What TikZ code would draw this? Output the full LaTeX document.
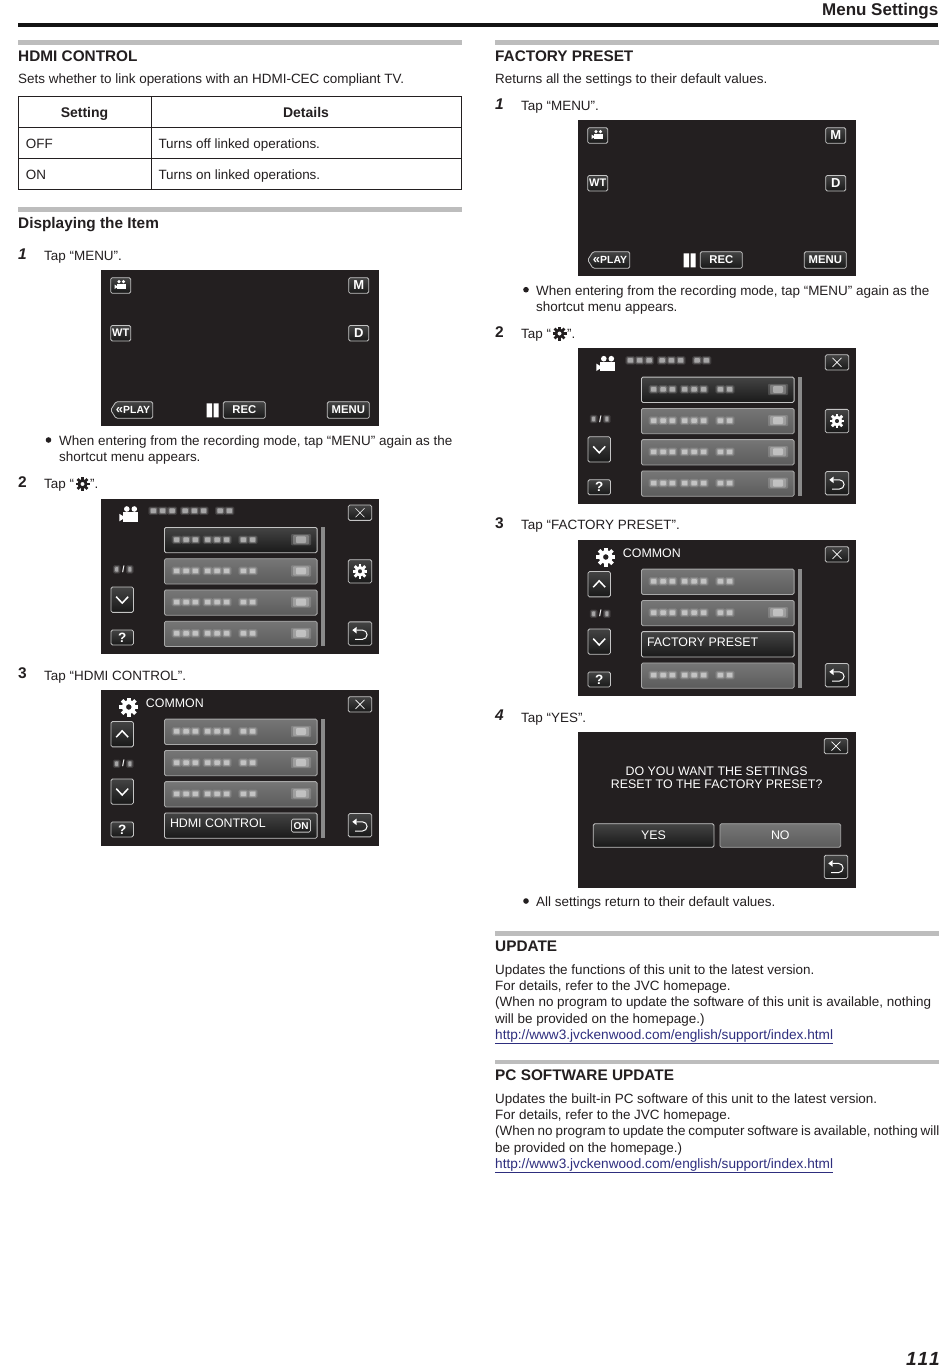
\documentclass[tikz,border=0pt]{standalone}
\usepackage{fontspec}
\setmainfont{Liberation Sans}
\definecolor{scrbg}{HTML}{231F20}
\definecolor{btnedge}{HTML}{C4C4C4}
\definecolor{btntop}{HTML}{444444}
\definecolor{btnbot}{HTML}{181818}
\definecolor{rowtop}{HTML}{767676}
\definecolor{rowbot}{HTML}{5C5C5C}
\definecolor{rowedge}{HTML}{A8A8A8}
\definecolor{scrollgrey}{HTML}{8A8A8A}
\definecolor{rulegrey}{HTML}{BDBDBD}
\definecolor{inktext}{HTML}{231F20}
\definecolor{linkblue}{HTML}{2E2E7E}

\newcommand{\blurbit}[3]{%
  \fill[white,opacity=.12,rounded corners=1.5pt] (#1-1.6,#2-4.2) rectangle (#1+#3+1.6,#2+4.2);
  \fill[white,opacity=.22,rounded corners=1pt] (#1-.3,#2-3.2) rectangle (#1+#3+.3,#2+3.2);
  \fill[white,opacity=.42,rounded corners=.8pt] (#1+.7,#2-2.3) rectangle (#1+#3-.7,#2+2.3);
}
\newcommand{\blurline}[1]{%
  \foreach \bx in {72.3,81.7,91,103.3,112.7,122.3,139,148.3} {\blurbit{\bx}{#1}{6.8}}
}
\newcommand{\blurbox}[1]{%
  \fill[white,opacity=.16,rounded corners=1pt] (190,#1-5.6) rectangle (210,#1+5.6);
  \fill[white,opacity=.24,rounded corners=1pt] (192,#1-4.6) rectangle (208,#1+4.6);
  \fill[white,opacity=.36,rounded corners=1pt] (195,#1-3.4) rectangle (205,#1+3.4);
}
\newcommand{\pagerow}[3]{%
  \node[#3,anchor=north west] (#1) at (63,#2) {};
}
\newcommand{\blurnum}[1]{%
  \blurbit{13.5}{#1}{4.4}
  \node[smalltxt] (-pagenum) at (22.4,#1) {/};
  \blurbit{26.6}{#1}{4.4}
}
\newcommand{\backglyph}[2]{%
  \fill[white] (#1-7.7,#2-3.4) -- (#1-3.3,#2-6.7) -- (#1-3.3,#2) -- cycle;
  \draw[white,line width=1pt] (#1-3.3,#2-3.4) -- (#1+2.5,#2-3.4) arc[start angle=-90,end angle=90,radius=4.6] -- (#1-5,#2+5.8);
}
\newcommand{\chevron}[3]{%
  \draw[white,line width=1.5pt] (#1-6,#2-#3) -- (#1,#2+#3) -- (#1+6,#2-#3);
}
\newcommand{\crossglyph}[2]{%
  \draw[white,line width=.6pt] (#1-4.5,#2-4.5) -- (#1+4.5,#2+4.5) (#1-4.5,#2+4.5) -- (#1+4.5,#2-4.5);
}

\tikzset{
  hdg/.style={anchor=base west,inner sep=0pt,text=inktext,font=\bfseries\fontsize{15.35}{16}\selectfont},
  txt/.style={anchor=base west,inner sep=0pt,text=inktext,font=\fontsize{13.45}{14}\selectfont},
  stepnum/.style={anchor=base west,inner sep=0pt,text=inktext,font=\bfseries\fontsize{15.5}{16}\selectfont},
  stepslant/.style={stepnum,font=\bfseries\itshape\fontsize{15.5}{16}\selectfont},
  thead/.style={anchor=base,inner sep=0pt,text=inktext,font=\bfseries\fontsize{14}{14}\selectfont},
  linktxt/.style={txt,text=linkblue,font=\fontsize{13.63}{14}\selectfont},
  dot/.style={circle,fill=inktext,inner sep=0pt,minimum size=5.6pt},
  scrn/.style={anchor=north west,fill=scrbg,inner sep=0pt,minimum width=277.5pt,minimum height=155.6pt},
  btn/.style={draw=btnedge,line width=.8pt,rounded corners=1.5pt,top color=btntop,bottom color=btnbot,
    text=white,inner sep=0pt,font=\bfseries\fontsize{11.3}{12}\selectfont},
  btnsmall/.style={btn,minimum width=20pt,minimum height=15.6pt,font=\bfseries\fontsize{13}{13}\selectfont},
  btnwide/.style={btn,minimum width=42pt,minimum height=16.6pt},
  btntall/.style={btn,minimum width=22.4pt,minimum height=25.3pt},
  btnsquare/.style={btn,minimum width=23.4pt,minimum height=23.3pt},
  btnflat/.style={btn,minimum width=22.4pt,minimum height=15pt},
  btnclose/.style={btn,minimum width=23.4pt,minimum height=15.3pt},
  rowlight/.style={draw=rowedge,line width=.8pt,rounded corners=1.5pt,top color=rowtop,bottom color=rowbot,
    inner sep=0pt,minimum width=152.7pt,minimum height=25.3pt},
  rowdark/.style={rowlight,draw=btnedge,top color=btntop,bottom color=black!90},
  scrtxt/.style={text=white,inner sep=0pt,font=\fontsize{12.4}{14}\selectfont},
  smalltxt/.style={text=white,inner sep=0pt,font=\bfseries\fontsize{9}{9}\selectfont},
  pics/camglyph/.style={code={
    \fill[white] (-5.5,-1.5) rectangle (9.5,7.8);
    \fill[white] (-2,-4.8) circle (2.8) (5.5,-4.8) circle (2.8);
    \fill[white] (-9.5,0) -- (-5.5,2.5) -- (-5.5,5) -- (-9.5,7.5) -- cycle;
  }},
  pics/gearglyph/.style={code={
    \path[pic actions,even odd rule] (0,0) circle (.72) (0,0) circle (.3);
    \foreach \ga in {0,45,...,315} {\path[pic actions,rotate=\ga] (-.19,-.62) rectangle (.19,-1);}
  }},
  pics/menuscreen/.style={code={
    \node[scrn] (-bg) at (0,0) {};
    \node[btnsmall] (-cam) at (19.7,15.5) {};
    \pic[scale=.6] at (19.2,14.5) {camglyph};
    \node[btnsmall] (-m) at (257.7,15.5) {M};
    \node[btnsmall,font=\bfseries\fontsize{11}{11}\selectfont] (-wt) at (19.7,63.2) {WT};
    \node[btnsmall] (-d) at (257.7,63.2) {D};
    \draw[btnedge,line width=.8pt,rounded corners=1.5pt,top color=btntop,bottom color=btnbot]
      (9.7,140) -- (15,131.7) -- (51.7,131.7) -- (51.7,148.3) -- (15,148.3) -- cycle;
    \node[text=white,inner sep=0pt,font=\bfseries\fontsize{10.4}{11}\selectfont] (-play) at (32,139.6) {{\fontsize{13}{11}\selectfont«}PLAY};
    \fill[white] (105.7,133.3) rectangle (111,147.3) (112.7,133.3) rectangle (117.5,147.3);
    \node[btnwide] (-rec) at (143.3,140) {REC};
    \node[btnwide] (-menu) at (247.3,140) {MENU};
  }},
  pics/listscreen/.style={code={
    \node[scrn] (-bg) at (0,0) {};
    \pic at (27.8,15.5) {camglyph};
    \foreach \bx in {49,58.3,67.7,80.7,90,99.3,115.7,125} {\blurbit{\bx}{12.4}{6.8}}
    \node[btnclose] (-close) at (259,14.4) {};
    \crossglyph{259}{14.4}
    \pagerow{-r1}{28.7}{rowdark}
    \pagerow{-r2}{60}{rowlight}
    \pagerow{-r3}{91.2}{rowlight}
    \pagerow{-r4}{122.5}{rowlight}
    \foreach \ry in {41.4,72.6,103.8,135.1} {\blurline{\ry} \blurbox{\ry}}
    \fill[scrollgrey] (219.7,28.7) rectangle (224,147.8);
    \blurnum{71}
    \node[btntall] (-down) at (21.2,101.4) {};
    \chevron{21.2}{101.6}{3.2}
    \node[btnflat] (-help) at (21.2,139.2) {\fontsize{13.5}{14}\selectfont ?};
    \node[btnsquare] (-gear) at (259,73) {};
    \pic[scale=7.4,fill=white] at (259,73) {gearglyph};
    \node[btnsquare] (-back) at (259,135.2) {};
    \backglyph{259}{135.2}
  }},
  pics/commonframe/.style={code={
    \node[scrn] (-bg) at (0,0) {};
    \pic[scale=9.5,fill=white] at (27.8,17) {gearglyph};
    \node[scrtxt,anchor=base west] (-title) at (44.7,17.5) {COMMON};
    \node[btnclose] (-close) at (259,14.4) {};
    \crossglyph{259}{14.4}
    \fill[scrollgrey] (219.7,28.7) rectangle (224,147.8);
    \node[btntall] (-up) at (21.2,44.2) {};
    \chevron{21.2}{44}{-3.2}
    \blurnum{73.7}
    \node[btntall] (-down) at (21.2,101.6) {};
    \chevron{21.2}{101.8}{3.2}
    \node[btnflat] (-help) at (21.2,139.4) {\fontsize{13.5}{14}\selectfont ?};
    \node[btnsquare] (-back) at (259,135.2) {};
    \backglyph{259}{135.2}
  }},
  pics/hdmiscreen/.style={code={
    \pic (-) at (0,0) {commonframe};
    \pagerow{-r1}{28.7}{rowlight}
    \pagerow{-r2}{60}{rowlight}
    \pagerow{-r3}{91.2}{rowlight}
    \pagerow{-r4}{122.5}{rowdark}
    \foreach \ry in {41.4,72.6,103.8} {\blurline{\ry} \blurbox{\ry}}
    \node[scrtxt,anchor=base west] (-hdmi) at (68.8,137.6) {HDMI CONTROL};
    \node[btn,minimum width=19pt,minimum height=13pt,font=\bfseries\fontsize{10}{10}\selectfont] (-on) at (200,135.6) {ON};
  }},
  pics/presetscreen/.style={code={
    \pic (-) at (0,0) {commonframe};
    \pagerow{-r1}{28.7}{rowlight}
    \pagerow{-r2}{60}{rowlight}
    \pagerow{-r3}{91.2}{rowdark}
    \pagerow{-r4}{122.5}{rowlight}
    \foreach \ry in {41.4,72.6,135.1} {\blurline{\ry}}
    \blurbox{72.6}
    \node[scrtxt,anchor=base west] (-factory) at (68.8,106) {FACTORY PRESET};
  }},
  pics/askscreen/.style={code={
    \node[scrn] (-bg) at (0,0) {};
    \node[btnclose] (-close) at (258,14.4) {};
    \crossglyph{258}{14.4}
    \node[scrtxt,anchor=base] (-ask1) at (138.7,43.8) {DO YOU WANT THE SETTINGS};
    \node[scrtxt,anchor=base] (-ask2) at (138.7,57) {RESET TO THE FACTORY PRESET?};
    \node[btn,minimum width=120.7pt,minimum height=23.6pt,font=\fontsize{12.4}{14}\selectfont] (-yes) at (75.6,103.8) {\raisebox{1pt}{YES}};
    \node[rowlight,minimum width=120.7pt,minimum height=23.6pt,text=white,font=\fontsize{12.4}{14}\selectfont] (-no) at (202.3,103.8) {\raisebox{1pt}{NO}};
    \node[btnsquare] (-back) at (258,135.1) {};
    \backglyph{258}{135.1}
  }},
}

\begin{document}
\begin{tikzpicture}[x=1pt,y=-1pt]
  \useasboundingbox[fill=white] (0,0) rectangle (950,1369);

  % page head
  \fill[black!92] (18,22.7) rectangle (938,27);
  \node[hdg,anchor=base east,font=\bfseries\fontsize{17}{17}\selectfont] (head) at (938.5,15) {Menu Settings};

  % left column
  \fill[rulegrey] (18,40.3) rectangle (461.5,45);
  \node[hdg] (hdmihead) at (18,61.3) {HDMI CONTROL};
  \node[txt] (hdmiintro) at (18,83.6) {Sets whether to link operations with an HDMI-CEC compliant TV.};

  \draw[inktext,line width=.8pt] (18,96.3) rectangle (461.5,189.7)
    (18,127.5) -- (461.5,127.5) (18,158.7) -- (461.5,158.7) (151,96.3) -- (151,189.7);
  \node[thead] (thset) at (84.5,117.3) {Setting};
  \node[thead] (thdet) at (306,117.3) {Details};
  \node[txt] (offkey) at (25.7,148.3) {OFF};
  \node[txt] (offval) at (158.3,148.3) {Turns off linked operations.};
  \node[txt] (onkey) at (25.7,179.5) {ON};
  \node[txt] (onval) at (158.3,179.5) {Turns on linked operations.};

  \fill[rulegrey] (18,207) rectangle (461.5,212);
  \node[hdg] (disphead) at (18,228) {Displaying the Item};

  \node[stepslant] (lnum1) at (18,259) {1};
  \node[txt] (lstep1) at (44,260.3) {Tap “MENU”.};
  \pic (lmenu) at (101,270) {menuscreen};
  \node[dot] (ldot1) at (48.5,440) {};
  \node[txt] (lnote1) at (59,445.3) {When entering from the recording mode, tap “MENU” again as the};
  \node[txt] (lnote2) at (59,461.7) {shortcut menu appears.};
  \node[stepnum] (lnum2) at (18,487.8) {2};
  \node[txt] (lstep2) at (44,488.8) {Tap “\hspace{16pt}”.};
  \pic[scale=7,fill=inktext] at (82.5,484) {gearglyph};
  \pic (llist) at (101,498.3) {listscreen};
  \node[stepnum] (lnum3) at (18,678.5) {3};
  \node[txt] (lstep3) at (44,680) {Tap “HDMI CONTROL”.};
  \pic (lhdmi) at (101,690) {hdmiscreen};

  % right column
  \fill[rulegrey] (495,40.3) rectangle (938.5,45);
  \node[hdg] (preshead) at (495,61.3) {FACTORY PRESET};
  \node[txt] (presintro) at (495,83.8) {Returns all the settings to their default values.};
  \node[stepslant] (rnum1) at (495,109) {1};
  \node[txt] (rstep1) at (521,110.3) {Tap “MENU”.};
  \pic (rmenu) at (578,120) {menuscreen};
  \node[dot] (rdot1) at (526,289.7) {};
  \node[txt] (rnote1) at (536,295) {When entering from the recording mode, tap “MENU” again as the};
  \node[txt] (rnote2) at (536,311.6) {shortcut menu appears.};
  \node[stepnum] (rnum2) at (495,337.3) {2};
  \node[txt] (rstep2) at (521,338.3) {Tap “\hspace{16pt}”.};
  \pic[scale=7,fill=inktext] at (559.5,333.5) {gearglyph};
  \pic (rlist) at (578,348) {listscreen};
  \node[stepnum] (rnum3) at (495,528.5) {3};
  \node[txt] (rstep3) at (521,529.6) {Tap “FACTORY PRESET”.};
  \pic (rpreset) at (578,540) {presetscreen};
  \node[stepslant] (rnum4) at (495,720.5) {4};
  \node[txt] (rstep4) at (521,722) {Tap “YES”.};
  \pic (rask) at (578,731.7) {askscreen};
  \node[dot] (rdot2) at (526,901) {};
  \node[txt] (rnote3) at (536,906.7) {All settings return to their default values.};

  \fill[rulegrey] (495,931) rectangle (938.5,935.6);
  \node[hdg] (updhead) at (495,951.8) {UPDATE};
  \node[txt] (upd1) at (495,974) {Updates the functions of this unit to the latest version.};
  \node[txt] (upd2) at (495,990.3) {For details, refer to the JVC homepage.};
  \node[txt] (upd3) at (495,1006.7) {(When no program to update the software of this unit is available, nothing};
  \node[txt] (upd4) at (495,1023) {will be provided on the homepage.)};
  \node[linktxt] (upd5) at (495,1039.3) {\underline{http://www3.jvckenwood.com/english/support/index.html}};

  \fill[rulegrey] (495,1059.6) rectangle (938.5,1064.2);
  \node[hdg] (pchead) at (495,1080.6) {PC SOFTWARE UPDATE};
  \node[txt] (pc1) at (495,1103) {Updates the built-in PC software of this unit to the latest version.};
  \node[txt] (pc2) at (495,1119.3) {For details, refer to the JVC homepage.};
  \node[txt] (pc3) at (495,1135.7) {\spaceskip=.218em (When no program to update the computer software is available, nothing will};
  \node[txt] (pc4) at (495,1152) {be provided on the homepage.)};
  \node[linktxt] (pc5) at (495,1168.3) {\underline{http://www3.jvckenwood.com/english/support/index.html}};

  % folio
  \node[stepslant,anchor=base east,font=\bfseries\itshape\fontsize{19}{19}\selectfont] (folio) at (940,1365) {1\kern1pt 1\kern1pt 1};
\end{tikzpicture}
\end{document}
